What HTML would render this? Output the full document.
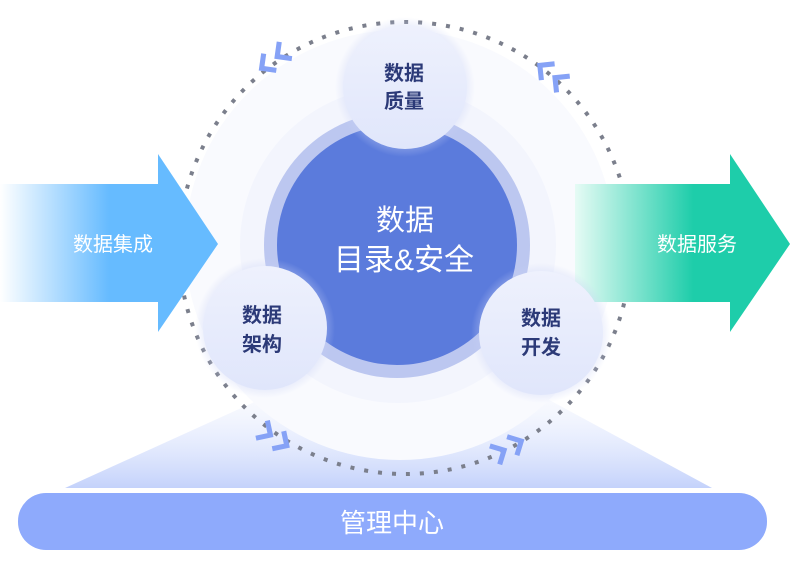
<!DOCTYPE html>
<html><head><meta charset="utf-8"><style>
html,body{margin:0;padding:0;background:#fff;}
svg{display:block;}
text{font-family:"Liberation Sans","Noto Sans CJK SC",sans-serif;}
</style></head><body>
<svg width="800" height="561" viewBox="0 0 800 561" xmlns="http://www.w3.org/2000/svg">
<defs>
<linearGradient id="gb" x1="0" x2="1" y1="0" y2="0">
<stop offset="0" stop-color="#ffffff"/>
<stop offset="0.5" stop-color="#66bbff"/>
<stop offset="1" stop-color="#66bbff"/>
</linearGradient>
<linearGradient id="gg" x1="0" x2="1" y1="0" y2="0">
<stop offset="0" stop-color="#e6fbf5"/>
<stop offset="0.55" stop-color="#1ecdaa"/>
<stop offset="1" stop-color="#1ecdaa"/>
</linearGradient>
<linearGradient id="gt" x1="0" x2="0" y1="0" y2="1">
<stop offset="0" stop-color="#eef2fe" stop-opacity="0.3"/>
<stop offset="1" stop-color="#c4d2fb"/>
</linearGradient>
<radialGradient id="gs" cx="0.5" cy="0.5" r="0.5">
<stop offset="0.75" stop-color="#c7d0f5" stop-opacity="0.6"/>
<stop offset="1" stop-color="#c7d0f5" stop-opacity="0"/>
</radialGradient>
<linearGradient id="gc" x1="0" x2="0" y1="0" y2="1">
<stop offset="0" stop-color="#eef1fd"/>
<stop offset="1" stop-color="#e0e6fb"/>
</linearGradient>
<g id="chev" fill="none" stroke="#86a2f6" stroke-width="3.4" stroke-linejoin="miter">
<polyline points="-13,-7 -6,0 -13,7"/>
<polyline points="0,-7 7,0 0,7"/>
</g>
</defs>
<polygon points="65,488 270,395 540,395 712,488" fill="url(#gt)"/>
<circle cx="400" cy="245" r="215" fill="#f9fafe"/>
<circle cx="398" cy="245" r="158" fill="#f3f5fd"/>
<circle cx="405" cy="248" r="226" fill="none" stroke="#7b7f8c" stroke-width="4" stroke-dasharray="4 10"/>
<polygon points="0,184 158,184 158,154 218,244 158,332 158,302 0,302" fill="url(#gb)"/>
<text x="113" y="251" font-size="20" fill="#fff" text-anchor="middle">数据集成</text>
<polygon points="575,184 730,184 730,154 790,244 730,332 730,302 575,302" fill="url(#gg)"/>
<text x="697" y="251" font-size="20" fill="#fff" text-anchor="middle">数据服务</text>
<circle cx="397" cy="245" r="133" fill="#bcc7f0"/>
<circle cx="397" cy="245" r="120" fill="#5b7bdc"/>
<text x="405" y="230" font-size="29" fill="#fff" text-anchor="middle">数据</text>
<text x="404" y="270" font-size="30" fill="#fff" text-anchor="middle">目录&amp;安全</text>
<circle cx="405" cy="87" r="70" fill="url(#gs)"/>
<circle cx="405" cy="87" r="62" fill="url(#gc)"/>
<text x="404" y="80" font-size="20" font-weight="bold" fill="#2c3a78" text-anchor="middle">数据</text>
<text x="404" y="108" font-size="20" font-weight="bold" fill="#2c3a78" text-anchor="middle">质量</text>
<circle cx="265" cy="328" r="70" fill="url(#gs)"/>
<circle cx="265" cy="328" r="62" fill="url(#gc)"/>
<text x="262" y="322" font-size="20" font-weight="bold" fill="#2c3a78" text-anchor="middle">数据</text>
<text x="262" y="351" font-size="20" font-weight="bold" fill="#2c3a78" text-anchor="middle">架构</text>
<circle cx="541" cy="333" r="70" fill="url(#gs)"/>
<circle cx="541" cy="333" r="62" fill="url(#gc)"/>
<text x="541" y="325" font-size="20" font-weight="bold" fill="#2c3a78" text-anchor="middle">数据</text>
<text x="541" y="354" font-size="20" font-weight="bold" fill="#2c3a78" text-anchor="middle">开发</text>
<use href="#chev" transform="translate(270,62) rotate(143) scale(1.5)"/>
<use href="#chev" transform="translate(548,72) rotate(219) scale(1.5)"/>
<use href="#chev" transform="translate(278,440) rotate(33) scale(1.5)"/>
<use href="#chev" transform="translate(512,446) rotate(-28) scale(1.5)"/>
<rect x="18" y="493" width="749" height="57" rx="28" fill="#8eaafc"/>
<text x="392" y="532" font-size="26" fill="#fff" text-anchor="middle">管理中心</text>
</svg>
</body></html>
